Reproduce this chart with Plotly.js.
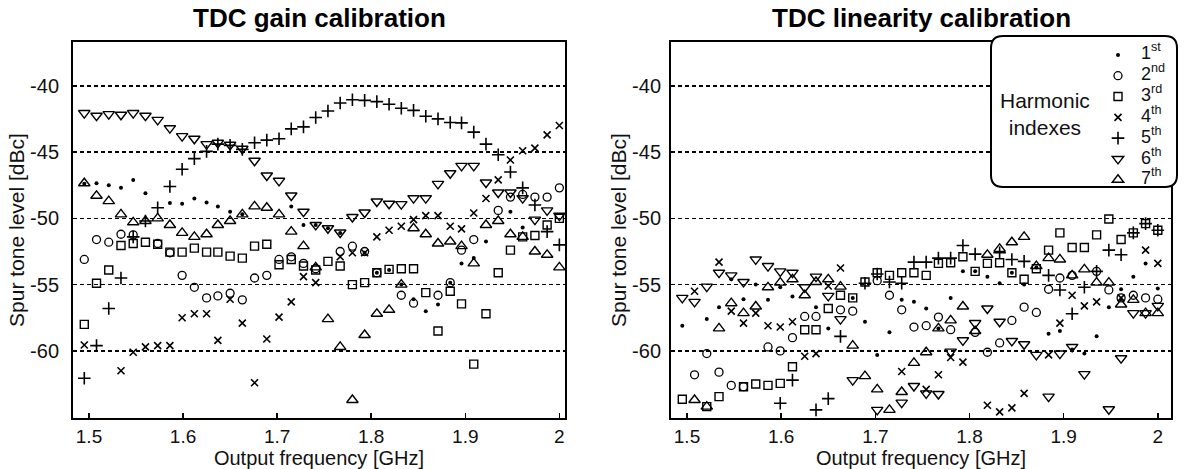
<!DOCTYPE html>
<html><head><meta charset="utf-8">
<script src="https://cdn.plot.ly/plotly-3.0.1.min.js"></script>
<style>html,body{margin:0;padding:0;background:#fff}#chart{width:1185px;height:469px}</style>
</head><body><div id="chart"></div>
<script>
// Output frequency [GHz]
const freq = [1.495,1.508,1.521,1.534,1.547,1.560,1.573,1.586,1.599,1.612,
              1.625,1.637,1.650,1.663,1.676,1.689,1.702,1.715,1.728,1.741,
              1.754,1.767,1.780,1.793,1.806,1.819,1.832,1.845,1.858,1.871,
              1.884,1.896,1.909,1.922,1.935,1.948,1.961,1.974,1.987,2.000];

const harmonicNames = ['1<sup>st</sup>','2<sup>nd</sup>','3<sup>rd</sup>','4<sup>th</sup>','5<sup>th</sup>','6<sup>th</sup>','7<sup>th</sup>'];
const xTickVals = [1.5,1.6,1.7,1.8,1.9,2.0];
const xTickText = ['1.5','1.6','1.7','1.8','1.9','2'];
const yTickVals = [-40,-45,-50,-55,-60];
const yTickText = ['-40','-45','-50','-55','-60'];

// TDC gain calibration – spur level [dBc] per harmonic
const gain_h1 = [-47.4,-47.35,-47.5,-47.7,-47.1,-48.1,null,-48.85,-48.9,-48.5,-48.8,-49.1,-49.5,-49.7,null,null,null,-49.1,-50.5,-50.5,-50.75,-51.1,null,-52.6,-54.1,-53.9,-55.0,-56.1,-57.0,-56.5,-54.85,-53.4,-53.0,-51.75,null,-49.5,-50.7,null,null,null];
const gain_h2 = [-53.1,-51.6,-51.8,-51.2,-51.25,null,-51.9,-52.6,-54.3,-55.2,-56.0,-55.85,-55.65,-56.15,-54.5,-54.3,-53.1,-52.9,-53.4,-53.8,null,-52.5,-52.1,-52.5,-54.1,null,-55.8,-56.4,null,-55.8,-54.85,-52.4,-51.6,null,-49.4,-48.4,-48.2,-48.4,-48.4,-47.7];
const gain_h3 = [-58.0,-54.9,-53.9,-52.05,-51.9,-51.8,-51.95,-52.55,-52.55,-52.25,-52.55,-52.55,-52.85,-53.0,-52.1,-51.95,-53.5,-53.1,-53.6,-53.9,-53.25,-53.6,-55.0,-54.85,-54.1,-53.85,-53.8,-53.8,-55.6,-58.5,-55.5,-56.45,-61.0,-57.2,-54.1,-52.4,-51.4,-51.3,-50.5,-50.0];
const gain_h4 = [-59.55,null,null,-61.5,-60.1,-59.7,-59.6,-59.6,-57.5,-57.2,-57.2,-59.2,-56.1,-57.9,-62.4,-59.1,-57.45,-56.3,-54.4,-54.85,null,-52.9,-52.6,-52.6,-51.4,-50.9,-50.6,-50.1,-49.8,-49.8,-50.6,-50.8,-49.6,-48.5,-47.1,-45.6,-44.9,-44.7,-43.7,-43.0];
const gain_h5 = [-62.06,-59.6,-56.8,-54.5,-51.4,-50.2,-49.2,-47.6,-46.3,-45.5,-44.95,-44.4,-44.5,-44.8,-44.3,-44.1,-44.0,-43.25,-43.1,-42.4,-41.9,-41.3,-41.06,-41.1,-41.2,-41.4,-41.7,-41.86,-42.3,-42.5,-42.77,-42.8,-43.5,-44.4,-45.2,-46.5,-47.7,-49.0,-51.0,-52.0];
const gain_h6 = [-42.06,-42.26,-42.14,-42.19,-42.06,-42.26,-42.57,-43.2,-43.8,-44.0,-44.4,-44.3,-44.45,-44.75,-45.66,-46.77,-47.17,-48.28,-49.5,-50.5,-50.75,-51.07,-49.9,-49.56,-48.73,-48.9,-48.93,-48.48,-48.48,-47.4,-46.6,-46.04,-46.04,-47.3,-48.05,-48.05,-48.48,-50.1,-49.4,-49.8];
const gain_h7 = [-47.35,-48.3,-48.7,-49.7,-50.3,-50.2,-50.0,-50.5,-51.1,-51.4,-51.2,-50.5,-50.2,-49.7,-49.1,-49.2,-49.7,-51.0,-52.1,-53.7,-57.6,-59.7,-63.7,-58.8,-57.2,-56.9,-55.0,-50.75,-51.2,-51.9,-51.75,-52.1,-53.4,-50.5,-50.2,-51.2,-51.4,-52.5,-52.75,-53.7];

// TDC linearity calibration – spur level [dBc] per harmonic
const lin_h1 = [-58.1,null,-57.6,-56.7,-54.6,-56.1,-55.0,-56.15,-55.2,-55.9,null,-56.7,-58.3,null,-56.0,-57.8,-60.3,-58.6,-56.15,-56.3,-56.8,-58.3,-56.0,-54.0,-54.0,-54.4,-54.9,-54.1,-55.0,-53.7,-58.7,-58.5,-59.9,-60.2,-58.9,-56.7,-55.35,-54.4,-53.4,-55.3];
const lin_h2 = [null,-61.8,-60.2,-61.6,-62.6,-62.7,null,-59.7,-60.0,-59.0,-57.4,-57.4,null,-56.9,-57.0,null,-54.7,-55.8,-56.9,-58.2,-58.1,-57.45,-58.4,null,-58.6,-60.1,-59.4,-57.7,-56.7,-57.1,-55.35,-54.5,-54.3,null,-54.0,-55.4,-56.0,-55.8,-56.0,-56.1];
const lin_h3 = [-63.65,null,-64.2,-63.45,null,-62.7,-62.5,-62.6,-62.45,-61.2,-58.4,-58.4,-56.8,-55.8,-56.0,-54.8,-54.1,-54.3,-54.1,-54.1,-54.3,-53.4,-53.35,-52.9,-54.0,-53.4,-53.35,-54.1,-54.6,-53.8,-52.4,-51.1,-52.2,-52.2,-51.25,-50.05,-51.6,-51.1,-50.4,-50.9];
const lin_h4 = [null,-55.5,null,-53.3,-57.0,-57.9,-57.15,-58.1,-58.2,-57.8,-60.4,-60.2,-55.1,-53.75,null,null,null,null,-61.55,null,-62.9,-61.8,-60.5,-60.85,null,-64.1,-64.6,-64.3,-63.2,null,-60.3,-57.9,-55.8,-56.6,-56.3,null,-56.0,null,-52.4,-53.4];
const lin_h5 = [null,null,null,null,null,null,null,null,-63.95,-62.2,null,-64.45,-63.6,-58.9,null,-54.9,-54.2,-54.8,-54.9,-53.3,-53.3,-53.0,-53.0,-52.05,-52.7,null,-52.6,-53.1,-53.25,null,-54.3,-55.4,-57.2,-55.2,-54.0,-52.4,-52.75,-51.1,-50.4,-50.9];
const lin_h6 = [-56.0,-56.3,-55.15,-54.1,-54.3,-54.8,-53.1,-53.6,-54.0,-54.1,-55.2,-54.4,-55.85,-57.6,-62.2,null,-64.45,null,-63.9,-62.65,-63.2,-63.25,-60.05,-59.2,-57.9,-56.8,-57.8,-59.25,-59.5,-60.3,-63.45,-60.2,-59.7,-61.75,null,-64.4,-60.55,-57.15,-57.15,-56.6];
const lin_h7 = [null,-63.7,-64.2,-58.3,-56.4,-57.15,-56.65,-55.2,-54.85,-54.6,-55.8,-54.8,-54.6,-55.15,-59.6,-61.9,-62.9,-64.45,-63.1,-60.9,-60.1,-58.3,-57.7,-56.65,-58.5,-52.75,-52.3,-51.8,-51.4,-53.6,-53.0,-53.1,-54.3,-53.85,-54.85,-54.85,-56.5,-56.15,-57.15,-57.15];

const gainSeries = [gain_h1,gain_h2,gain_h3,gain_h4,gain_h5,gain_h6,gain_h7];
const linSeries  = [lin_h1,lin_h2,lin_h3,lin_h4,lin_h5,lin_h6,lin_h7];

const markerStyles = [
  {symbol:'circle', size:4, color:'#000', line:{width:0}},
  {symbol:'circle-open', size:8, color:'#000', line:{width:1.3,color:'#000'}},
  {symbol:'square-open', size:8, color:'#000', line:{width:1.4,color:'#000'}},
  {symbol:'x-thin-open', size:7, color:'#000', line:{width:1.6,color:'#000'}},
  {symbol:'cross-thin-open', size:9, color:'#000', line:{width:1.6,color:'#000'}},
  {symbol:'triangle-down-open', size:10, color:'#000', line:{width:1.4,color:'#000'}},
  {symbol:'triangle-up-open', size:10, color:'#000', line:{width:1.4,color:'#000'}}
];

const traces = [];
gainSeries.forEach((s,i)=>traces.push({x:freq,y:s,type:'scatter',mode:'markers',name:'',
  marker:markerStyles[i],xaxis:'x',yaxis:'y',showlegend:false,cliponaxis:false}));
linSeries.forEach((s,i)=>traces.push({x:freq,y:s,type:'scatter',mode:'markers',name:'',
  marker:markerStyles[i],xaxis:'x2',yaxis:'y2',showlegend:true,cliponaxis:false}));

const FONT = 'Liberation Sans, Arial, sans-serif';
const W=1185,H=469,ML=73,MR=14,MT=42,MB=51;
const PW=W-ML-MR, PH=H-MT-MB;
const px=v=>(v-ML)/PW, py=v=>1-(v-MT)/PH;

function axisX(range,domain,anchor){
  return {domain:domain,range:range,anchor:anchor,tickvals:xTickVals,ticktext:xTickText,
    ticks:'inside',ticklen:5,tickwidth:1.5,tickcolor:'#000',showgrid:false,zeroline:false,
    showline:true,mirror:true,linewidth:2,linecolor:'#000',ticklabelstandoff:0,
    tickfont:{family:FONT,size:19,color:'#111'},
    title:{text:'Output frequency [GHz]',font:{family:FONT,size:20,color:'#111'},standoff:10}};
}
function axisY(anchor,labelGap,titleGap){
  return {domain:[0,1],range:[-65.06,-36.7],anchor:anchor,tickvals:yTickVals,ticktext:yTickText,
    ticks:'',showgrid:true,gridcolor:'#000',gridwidth:1.5,griddash:'4px,3px',zeroline:false,
    showline:true,mirror:true,linewidth:2,linecolor:'#000',ticklabelstandoff:labelGap,
    tickfont:{family:FONT,size:20,color:'#111'},
    title:{text:'Spur tone level [dBc]',font:{family:FONT,size:21,color:'#111'},standoff:titleGap}};
}

const r=12, bx0=991,bx1=1177,by0=36,by1=187;
const boxPath = `M ${px(bx0+r)},${py(by0)} L ${px(bx1-r)},${py(by0)} Q ${px(bx1)},${py(by0)} ${px(bx1)},${py(by0+r)} `+
  `L ${px(bx1)},${py(by1-r)} Q ${px(bx1)},${py(by1)} ${px(bx1-r)},${py(by1)} L ${px(bx0+r)},${py(by1)} `+
  `Q ${px(bx0)},${py(by1)} ${px(bx0)},${py(by1-r)} L ${px(bx0)},${py(by0+r)} Q ${px(bx0)},${py(by0)} ${px(bx0+r)},${py(by0)} Z`;

const ITEM=20.8, FIRST=52;
const legendLabels = harmonicNames.map((t,i)=>({text:t,xref:'paper',yref:'paper',x:px(1139),y:py(FIRST+ITEM*i),
  xanchor:'left',yanchor:'middle',showarrow:false,font:{family:FONT,size:18,color:'#111'}}));

const layout = {
  width:W,height:H,margin:{l:ML,r:MR,t:MT,b:MB},
  paper_bgcolor:'#fff',plot_bgcolor:'#fff',
  font:{family:FONT,color:'#000'},
  xaxis:axisX([1.483,2.006],[0,px(565)],'y'),
  yaxis:axisY('x',8,0),
  xaxis2:axisX([1.483,2.014],[px(671),1],'y2'),
  yaxis2:axisY('x2',4,0),
  showlegend:true,
  legend:{x:px(1098),xanchor:'left',y:py(39.5),yanchor:'top',bgcolor:'rgba(0,0,0,0)',borderwidth:0,
    font:{family:FONT,size:13.7,color:'#111'},tracegroupgap:0},
  shapes:[{type:'path',path:boxPath,xref:'paper',yref:'paper',fillcolor:'#fff',
    line:{color:'#000',width:2},layer:'above'}],
  annotations:[
    {text:'<b>TDC gain calibration</b>',xref:'paper',yref:'paper',x:px(319),y:py(18),xanchor:'center',yanchor:'middle',
      showarrow:false,font:{family:FONT,size:26,color:'#000'}},
    {text:'<b>TDC linearity calibration</b>',xref:'paper',yref:'paper',x:px(921),y:py(18),xanchor:'center',yanchor:'middle',
      showarrow:false,font:{family:FONT,size:26,color:'#000'}},
    {text:'Harmonic<br>indexes',xref:'paper',yref:'paper',x:px(1045),y:py(114),xanchor:'center',yanchor:'middle',
      showarrow:false,align:'center',font:{family:FONT,size:21,color:'#111'}}
  ].concat(legendLabels)
};

Plotly.newPlot('chart',traces,layout,{staticPlot:true});
</script></body></html>
